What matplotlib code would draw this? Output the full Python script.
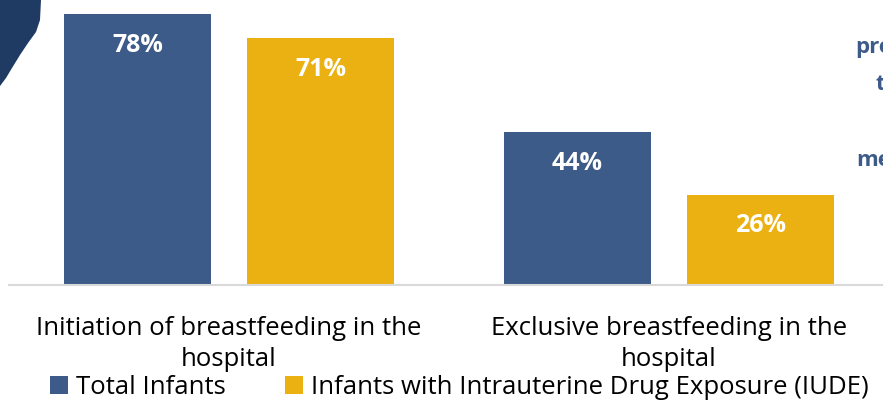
import matplotlib
matplotlib.use("Agg")
import matplotlib.pyplot as plt
from matplotlib.patches import Polygon
import numpy as np

# breastfeeding rates, total infants vs infants with IUDE
categories = ["Initiation of breastfeeding in the\nhospital",
              "Exclusive breastfeeding in the\nhospital"]
total_infants = [78, 44]
iude_infants = [71, 26]
series_names = ["Total Infants", "Infants with Intrauterine Drug Exposure (IUDE)"]

blue = "#3d5b88"
gold = "#ebb012"

plt.rcParams["font.family"] = ["Open Sans", "DejaVu Sans"]

fig = plt.figure(figsize=(8.83, 4.01), dpi=100)
ax = fig.add_axes([9 / 883, 116 / 401, 880 / 883, 278 / 401])

x = np.arange(len(categories))
w = 0.332
off = 0.208
b1 = ax.bar(x - off, total_infants, w, color=blue, label=series_names[0])
b2 = ax.bar(x + off, iude_infants, w, color=gold, label=series_names[1])

for bars, vals in [(b1, total_infants), (b2, iude_infants)]:
    for b, v in zip(bars, vals):
        ax.text(b.get_x() + b.get_width() / 2, v - 9.0, f"{v}%",
                ha="center", va="center", color="white",
                fontsize=18, fontweight="bold")

ax.set_xlim(-0.5, 1.5)
ax.set_ylim(0, 80)
ax.set_yticks([])
ax.set_xticks(x)
ax.set_xticklabels(categories, fontsize=18.5, linespacing=1.35)
ax.tick_params(axis="x", length=0, pad=22)
for s in ["top", "right", "left"]:
    ax.spines[s].set_visible(False)
ax.spines["bottom"].set_color("#d9d9d9")
ax.spines["bottom"].set_linewidth(1.5)

fig.legend(handles=[b1, b2], labels=series_names, loc="lower left",
           bbox_to_anchor=(40 / 883, -0.022), ncol=2, frameon=False,
           fontsize=18.5, handlelength=0.7, handleheight=0.7,
           handletextpad=0.3, columnspacing=2.3, borderaxespad=0)

# cut-off slide decoration: dark blob top-left and text on the right
pts = [(0, 0), (41, 0), (40, 20), (36, 32), (28, 43), (20, 55), (12, 68),
       (6, 78), (0, 86)]
blob = Polygon([(px / 883, 1 - py / 401) for px, py in pts], closed=True,
               transform=fig.transFigure, color="#1f3a63", lw=0)
fig.patches.append(blob)
for txt, xx, yy in [("pro", 855, 47), ("t", 876, 84), ("me", 856, 161)]:
    fig.text(xx / 883, 1 - yy / 401, txt, color=blue, fontsize=16,
             fontweight="bold", va="center")

fig.savefig("out.png", dpi=100)
